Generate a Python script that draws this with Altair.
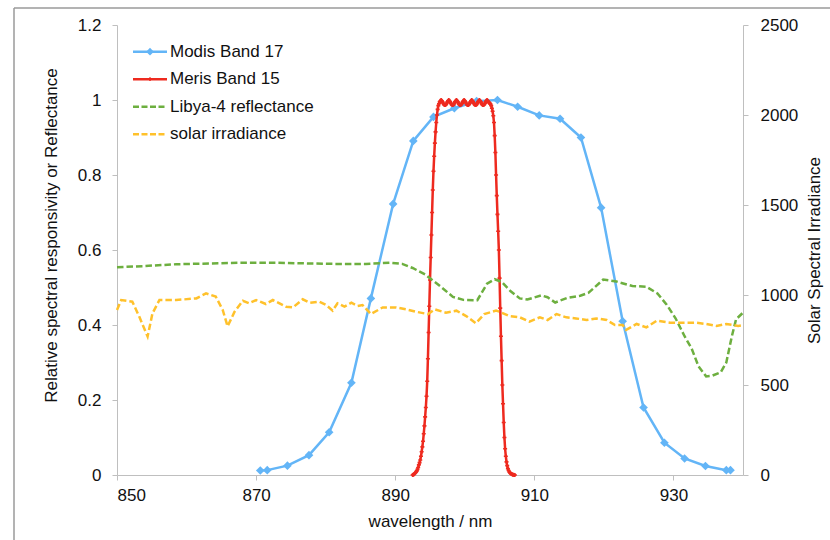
import altair as alt
import pandas as pd

SERIES = ["Modis Band 17", "Meris Band 15", "Libya-4 reflectance", "solar irradiance"]
COLORS = ["#63B5F7", "#EE2A1F", "#6DAF3F", "#FFC12B"]

X_TICKS = [850, 870, 890, 910, 930]
Y_LEFT_TICKS = [0, 0.2, 0.4, 0.6, 0.8, 1.0, 1.2]
Y_RIGHT_TICKS = [0, 500, 1000, 1500, 2000, 2500]

MODIS_WL = [870.6, 871.6, 874.5, 877.6, 880.5, 883.7, 886.5, 889.7, 892.6, 895.5,
            898.5, 901.7, 904.7, 907.6, 910.7, 913.7, 916.7, 919.6, 922.7, 925.7,
            928.7, 931.6, 934.6, 937.6, 938.2]
MODIS_VAL = [0.012, 0.013, 0.025, 0.053, 0.114, 0.246, 0.471, 0.723, 0.891, 0.955,
             0.978, 0.997, 1.0, 0.982, 0.959, 0.950, 0.900, 0.713, 0.410, 0.180,
             0.086, 0.044, 0.024, 0.013, 0.013]

MERIS_START = 892.5
MERIS_STEP = 0.1
MERIS_VAL = [
    0.000, 0.001, 0.002, 0.004, 0.006, 0.008, 0.011, 0.015, 0.020, 0.027,
    0.033, 0.040, 0.050, 0.062, 0.075, 0.090, 0.110, 0.131, 0.155, 0.180,
    0.210, 0.250, 0.310, 0.380, 0.450, 0.520, 0.580, 0.640, 0.700, 0.760,
    0.810, 0.850, 0.885, 0.915, 0.940, 0.960, 0.975, 0.985, 0.990, 0.995,
    0.998,
    1.000, 0.998, 0.995, 0.991, 0.988, 0.987, 0.987, 0.988, 0.991, 0.995, 0.998,
    1.000, 0.998, 0.995, 0.991, 0.988, 0.987, 0.987, 0.988, 0.991, 0.995, 0.998,
    1.000, 0.998, 0.995, 0.991, 0.988, 0.987, 0.987, 0.988, 0.991, 0.995, 0.998,
    1.000, 0.998, 0.995, 0.991, 0.988, 0.987, 0.987, 0.988, 0.991, 0.995, 0.998,
    1.000, 0.998, 0.995, 0.991, 0.988, 0.987, 0.987, 0.988, 0.991, 0.995, 0.998,
    1.000, 0.998, 0.995, 0.991, 0.988, 0.987, 0.987, 0.988, 0.991, 0.995, 0.998,
    1.000,
    0.998, 0.995, 0.993, 0.991, 0.989, 0.985, 0.978, 0.970, 0.958, 0.940,
    0.905, 0.860, 0.800, 0.745, 0.695, 0.650, 0.600, 0.525, 0.445, 0.370,
    0.305, 0.240, 0.190, 0.140, 0.100, 0.070, 0.050, 0.035, 0.025, 0.017,
    0.012, 0.008, 0.006, 0.004, 0.003, 0.002, 0.001, 0.001, 0.000, 0.000,
]

LIBYA_WL = [850.0, 853.7, 858.5, 863.3, 868.1, 872.9, 877.7, 881.0, 885.8, 889.2,
            891.0, 892.5, 894.3, 896.5, 898.3, 899.8, 901.8, 903.2, 904.3, 905.3,
            906.6, 907.9, 909.0, 911.0, 911.9, 913.0, 914.7, 916.6, 917.8, 919.9,
            921.8, 924.1, 926.1, 927.7, 929.0, 930.3, 931.6, 932.6, 933.6, 934.7,
            935.6, 936.8, 937.6, 938.4, 939.0, 940.0]
LIBYA_VAL = [0.554, 0.557, 0.562, 0.564, 0.566, 0.566, 0.564, 0.563, 0.563, 0.566,
             0.563, 0.552, 0.535, 0.503, 0.475, 0.467, 0.466, 0.510, 0.522, 0.515,
             0.490, 0.471, 0.468, 0.479, 0.474, 0.460, 0.472, 0.478, 0.486, 0.521,
             0.516, 0.504, 0.502, 0.484, 0.455, 0.418, 0.370, 0.338, 0.290, 0.263,
             0.265, 0.274, 0.300, 0.370, 0.415, 0.433]

SOLAR_WL = [850.0, 850.6, 852.2, 853.2, 854.4, 855.1, 856.1, 858.5, 861.4, 862.8,
            864.2, 865.2, 865.9, 866.9, 868.1, 869.0, 870.0, 871.4, 872.4, 874.3,
            875.3, 876.7, 877.7, 879.1, 880.1, 881.0, 881.7, 882.7, 883.7, 884.6,
            885.3, 886.5, 888.2, 890.1, 891.6, 893.0, 894.7, 895.7, 897.3, 898.8,
            900.2, 901.6, 902.8, 904.5, 905.0, 906.4, 907.9, 909.3, 910.8, 911.9,
            913.2, 914.6, 916.0, 917.5, 918.9, 920.4, 921.6, 922.7, 923.2, 924.7,
            926.1, 927.6, 929.5, 931.4, 933.3, 934.7, 936.2, 937.6, 939.3, 940.0]
SOLAR_VAL = [917, 972, 963, 880, 770, 898, 972, 972, 981, 1009,
             991, 917, 826, 907, 968, 954, 972, 950, 972, 935,
             931, 976, 957, 963, 944, 913, 954, 935, 957, 939,
             944, 894, 931, 931, 920, 907, 894, 920, 902, 913,
             883, 843, 894, 913, 907, 883, 876, 852, 876, 861,
             894, 876, 870, 861, 870, 861, 833, 833, 806, 839,
             820, 857, 846, 846, 846, 839, 828, 839, 828, 833]

modis = pd.DataFrame({"wl": MODIS_WL, "value": MODIS_VAL, "series": SERIES[0]})
meris = pd.DataFrame({
    "wl": [round(MERIS_START + i * MERIS_STEP, 1) for i in range(len(MERIS_VAL))],
    "value": MERIS_VAL, "series": SERIES[1]})
libya = pd.DataFrame({"wl": LIBYA_WL, "value": LIBYA_VAL, "series": SERIES[2]})
solar = pd.DataFrame({"wl": SOLAR_WL, "value": SOLAR_VAL, "series": SERIES[3]})
legend_df = pd.DataFrame({"series": SERIES, "row": list(range(len(SERIES)))})

FONT = "Liberation Sans"
AX_GRAY = "#BFBFBF"
TXT = "#111111"
DASH = [6.5, 3]

x_enc = alt.X("wl:Q", scale=alt.Scale(domain=[850, 940], nice=False, zero=False),
              axis=alt.Axis(values=X_TICKS, format="d", title="wavelength / nm",
                            titlePadding=10, labelPadding=7))
y_left = alt.Y("value:Q", scale=alt.Scale(domain=[0, 1.2], nice=False),
               axis=alt.Axis(values=Y_LEFT_TICKS, format="~g", orient="left",
                             title="Relative spectral responsivity or Reflectance",
                             labelPadding=11, titlePadding=17, titleY=210))
y_right = alt.Y("value:Q", scale=alt.Scale(domain=[0, 2500], nice=False),
                axis=alt.Axis(values=Y_RIGHT_TICKS, format="d", orient="right",
                              title="Solar Spectral Irradiance", titleAngle=270,
                              labelPadding=12, titlePadding=26))

color = alt.Color("series:N", scale=alt.Scale(domain=SERIES, range=COLORS), legend=None)

modis_line = alt.Chart(modis).mark_line(strokeWidth=2.5).encode(x=x_enc, y=y_left, color=color)
modis_pts = alt.Chart(modis).mark_point(shape="diamond", filled=True, size=75, opacity=1,
                                        color=COLORS[0]).encode(x=x_enc, y=y_left)
meris_line = alt.Chart(meris).mark_line(strokeWidth=2.5).encode(x=x_enc, y=y_left, color=color)
meris_pts = alt.Chart(meris).mark_point(shape="cross", filled=True, size=16, opacity=1,
                                        color=COLORS[1]).encode(x=x_enc, y=y_left)
libya_line = alt.Chart(libya).mark_line(strokeWidth=2.5, strokeDash=DASH).encode(
    x=x_enc, y=y_left, color=color)
solar_line = alt.Chart(solar).mark_line(strokeWidth=2.5, strokeDash=DASH).encode(
    x=x_enc, y=y_right, color=color)

# legend (top-left, inside the plot)
leg_base = alt.Chart(legend_df).transform_calculate(py="26.7 + 27.5 * datum.row")
leg_y = alt.Y("py:Q", scale=None)
leg_solid = leg_base.transform_filter("datum.row < 2").mark_rule(strokeWidth=2.5).encode(
    x=alt.value(16), x2=alt.value(50), y=leg_y, color=color)
leg_dash = leg_base.transform_filter("datum.row >= 2").mark_rule(
    strokeWidth=2.5, strokeDash=[6, 2.5]).encode(
    x=alt.value(16), x2=alt.value(50), y=leg_y, color=color)
leg_diamond = leg_base.transform_filter("datum.row == 0").mark_point(
    shape="diamond", filled=True, size=60, opacity=1, color=COLORS[0]).encode(
    x=alt.value(33), y=leg_y)
leg_cross = leg_base.transform_filter("datum.row == 1").mark_point(
    shape="cross", filled=True, size=14, opacity=1, color=COLORS[1]).encode(
    x=alt.value(33), y=leg_y)
leg_text = leg_base.mark_text(align="left", baseline="middle", font=FONT, fontSize=17,
                              color=TXT).encode(x=alt.value(53), y=leg_y, text="series:N")

frame_df = pd.DataFrame({"k": [0]})
frame_top = alt.Chart(frame_df).mark_rule(color="#9A9A9A", strokeWidth=1.5).encode(
    x=alt.value(-103), x2=alt.value(720), y=alt.value(-17))
frame_left = alt.Chart(frame_df).mark_rule(color="#9A9A9A", strokeWidth=1.5).encode(
    x=alt.value(-103), y=alt.value(-17), y2=alt.value(520))

left = alt.layer(modis_line, modis_pts, meris_line, meris_pts, libya_line)

chart = alt.layer(
    frame_top, frame_left, left, solar_line,
    leg_solid, leg_dash, leg_diamond, leg_cross, leg_text
).resolve_scale(
    y="independent"
).properties(
    width=626, height=450,
    background="white",
    autosize=alt.AutoSizeParams(type="none"),
    padding={"left": 117, "top": 25, "right": 87, "bottom": 65},
).configure_view(stroke=None).configure_axis(
    grid=False, domainColor=AX_GRAY, tickColor=AX_GRAY, tickSize=5,
    labelFont=FONT, labelFontSize=17, labelColor=TXT,
    titleFont=FONT, titleFontSize=17, titleColor=TXT, titleFontWeight="normal",
)

chart.save("out.html", embed_options={"renderer": "svg", "actions": False})
